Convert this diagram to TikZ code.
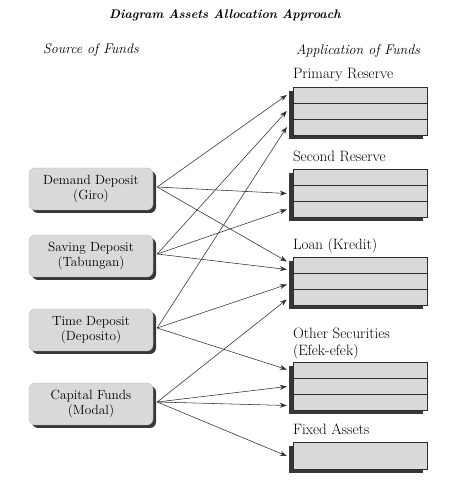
\documentclass[tikz,border=0pt]{standalone}
\usepackage{fontspec}
\usetikzlibrary{arrows.meta,shadows,calc}
\definecolor{boxGray}{RGB}{218,217,216}
\definecolor{shadeDark}{RGB}{55,55,55}
\definecolor{lineDark}{RGB}{45,45,45}

\begin{document}
\begin{tikzpicture}[x=1pt, y=1pt,
  source/.style={rounded corners=6pt, draw=black!25, fill=boxGray, align=center, minimum width=124pt, minimum height=42pt, inner sep=2pt, font=\fontsize{13.3}{15.5}\selectfont, drop shadow={shadow xshift=3pt, shadow yshift=-3pt, fill=shadeDark, opacity=1}},
  target/.style={draw=lineDark, fill=boxGray, minimum width=134pt, minimum height=48pt, inner sep=0pt, drop shadow={shadow xshift=-4pt, shadow yshift=-4pt, fill=shadeDark, opacity=1}},
  divider/.style={draw=lineDark, line width=0.6pt},
  boxlabel/.style={font=\fontsize{15}{17}\selectfont, inner sep=0pt, align=left},
  arrow/.style={-{Stealth[length=7pt, width=5pt]}, draw=lineDark, line width=0.55pt},
  heading/.style={font=\fontsize{14}{16}\selectfont\itshape},
  title/.style={font=\fontsize{12.5}{15}\selectfont\bfseries\itshape}
]
\useasboundingbox (0,0) rectangle (473,485);

\node[title] (ttl) at (225,470) {Diagram Assets Allocation Approach};
\node[heading] (srch) at (91,435) {Source of Funds};
\node[heading] (apph) at (358,434) {Application of Funds};

\node[source] (dd) at (91,296) {Demand Deposit\\(Giro)};
\node[source] (sd) at (91,229) {Saving Deposit\\(Tabungan)};
\node[source] (td) at (91,155) {Time Deposit\\(Deposito)};
\node[source] (cf) at (91,81) {Capital Funds\\(Modal)};

\node[target] (pr) at (360,374) {};
\node[target] (sr) at (360,291.5) {};
\node[target] (ln) at (360,203.5) {};
\node[target] (os) at (360,98.5) {};
\node[target, minimum height=27pt] (fa) at (360,29) {};

\foreach \b in {pr,sr,ln,os}
  \foreach \f in {0.3333,0.6667}
    \draw[divider] ($(\b.north west)!\f!(\b.south west)$) -- ($(\b.north east)!\f!(\b.south east)$);

\node[boxlabel, anchor=base west] (prl) at ([yshift=8pt]pr.north west) {Primary Reserve};
\node[boxlabel, anchor=base west] (srl) at ([yshift=8pt]sr.north west) {Second Reserve};
\node[boxlabel, anchor=base west] (lnl) at ([yshift=8pt]ln.north west) {Loan (Kredit)};
\node[boxlabel, anchor=south west] (osl) at ([yshift=3pt]os.north west) {Other Securities\\(Efek-efek)};
\node[boxlabel, anchor=base west] (fal) at ([yshift=8pt]fa.north west) {Fixed Assets};

\foreach \src/\dst/\dy in {dd/pr/16, dd/sr/0, dd/ln/20, sd/pr/0, sd/sr/-16, sd/ln/12,
    td/pr/-16, td/ln/-3, td/os/17, cf/ln/-18, cf/os/0, cf/os/-19, cf/fa/0}
  \draw[arrow] ([xshift=4pt,yshift=2pt]\src.east) -- ([xshift=-6pt,yshift=\dy pt]\dst.west);
\end{tikzpicture}
\end{document}
